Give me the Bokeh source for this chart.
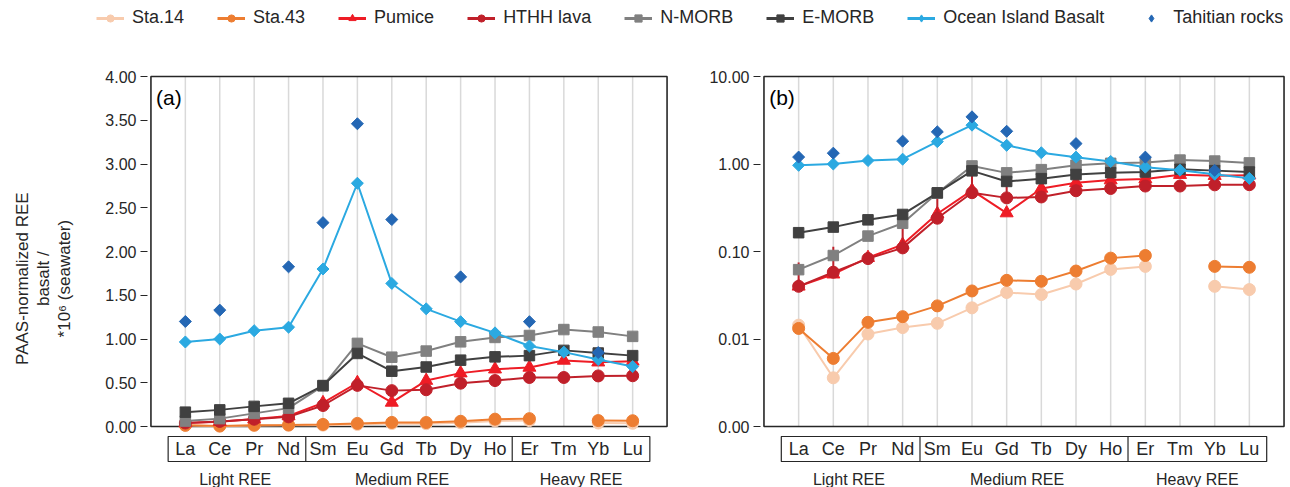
import math
from bokeh.plotting import figure
from bokeh.models import (Range1d, FixedTicker, PrintfTickFormatter, Legend, LegendItem)
from bokeh.layouts import column, row
from bokeh.embed import file_html
from bokeh.resources import INLINE
from bokeh.core.properties import value

nan = float("nan")

# ---------------- data ----------------
elements = ["La", "Ce", "Pr", "Nd", "Sm", "Eu", "Gd", "Tb", "Dy", "Ho", "Er", "Tm", "Yb", "Lu"]
groups = ["Light REE", "Medium REE", "Heavy REE"]
group_sizes = [4, 6, 4]

sta14 = [0.0144, 0.0036, 0.0114, 0.0135, 0.0151, 0.0227, 0.0340, 0.0322, 0.0425, 0.0624, 0.0676, nan, 0.0400, 0.0367]
sta43 = [0.0132, 0.0060, 0.0155, 0.0180, 0.0239, 0.0354, 0.0468, 0.0456, 0.0598, 0.0840, 0.0900, nan, 0.0676, 0.0660]
pumice = [0.040, 0.055, 0.085, 0.120, 0.270, 0.500, 0.275, 0.525, 0.610, 0.655, 0.675, 0.755, 0.735, 0.745]
hthh_lava = [0.040, 0.058, 0.083, 0.110, 0.240, 0.470, 0.410, 0.420, 0.495, 0.525, 0.560, 0.560, 0.578, 0.580]
# error bars as drawn: small symmetric whiskers in (a), upper bars in (b)
hthh_lava_err_a = [0.02, 0.02, 0.02, 0.02, 0.02, 0.03, 0.03, 0.03, 0.03, 0.03, 0.03, 0.03, 0.03, 0.03]
hthh_lava_err_b = [0.035, 0.055, 0.015, 0.150, 0.200, 0.400, 0.250, 0.030, 0.030, 0.030, 0.030, 0.030, 0.030, 0.030]
n_morb = [0.062, 0.090, 0.150, 0.210, 0.465, 0.950, 0.792, 0.862, 0.968, 1.018, 1.040, 1.108, 1.080, 1.030]
e_morb = [0.164, 0.190, 0.230, 0.265, 0.468, 0.835, 0.632, 0.680, 0.758, 0.796, 0.810, 0.870, 0.840, 0.810]
oib = [0.966, 1.000, 1.095, 1.135, 1.800, 2.780, 1.635, 1.345, 1.198, 1.070, 0.920, 0.850, 0.765, 0.685]
tahitian = [1.200, 1.330, nan, 1.825, 2.330, 3.460, 2.365, nan, 1.710, nan, 1.198, nan, 0.845, nan]

y_label_lines = ["PAAS-normalized REE", "basalt /", "*10\u2076 (seawater)"]

series = [
    # name, values, color, marker, size, angle, draw line, legend marker
    ("Sta.14", sta14, "#F8CBAD", "circle", 12, 0.0, True, "circle"),
    ("Sta.43", sta43, "#ED7D31", "circle", 12, 0.0, True, "circle"),
    ("Pumice", pumice, "#EE1C25", "triangle", 13, 0.0, True, "triangle"),
    ("HTHH lava", hthh_lava, "#C0202A", "circle", 12, 0.0, True, "circle"),
    ("N-MORB", n_morb, "#808080", "square", 10.5, 0.0, True, "square"),
    ("E-MORB", e_morb, "#404040", "square", 10.5, 0.0, True, "square"),
    ("Ocean Island Basalt", oib, "#2BA9E1", "square", 8.5, math.pi / 4, True, "diamond"),
    ("Tahitian rocks", tahitian, "#2467B4", "square", 8.5, math.pi / 4, False, "diamond"),
]

FONT = "Liberation Sans"
TXT = "#262626"
xs = list(range(1, len(elements) + 1))

PPU = 87.5          # pixels per y unit (linear) / per decade (log)
XPAD = 0.1
W, H = 1290, 487
LEG_H = 32
MAIN_H = H - LEG_H
TOP = 40            # frame top offset in the panel figure
YLAB_W = 80


def make_panel(log, letter, frame_left, frame_width, fig_width, err_lo, err_hi):
    if log:
        y_lo, y_hi = 1e-3, 10.0
        top = 10 ** (1 + 4 / PPU)
        bot = 10 ** (1 + 4 / PPU - (MAIN_H - TOP) / PPU)
        below = lambda px: 10 ** (-3 - px / PPU)
        ticks = [0.001, 0.01, 0.1, 1, 10]
    else:
        y_lo, y_hi = 0.0, 4.0
        top = 4 + 4 / PPU
        bot = top - (MAIN_H - TOP) / PPU
        below = lambda px: -px / PPU
        ticks = [0, 0.5, 1.0, 1.5, 2.0, 2.5, 3.0, 3.5, 4.0]

    p = figure(width=fig_width, height=MAIN_H, output_backend="svg", toolbar_location=None,
               x_range=Range1d(-XPAD, len(elements) + 1 + XPAD), y_range=Range1d(bot, top),
               y_axis_type="log" if log else "linear",
               min_border_left=frame_left, min_border_right=fig_width - frame_left - frame_width,
               min_border_top=TOP, min_border_bottom=0)
    p.outline_line_color = None
    p.xgrid.visible = False
    p.ygrid.visible = False
    p.xaxis.visible = False
    ax = p.yaxis[0]
    ax.ticker = FixedTicker(ticks=ticks, minor_ticks=[])
    ax.formatter = PrintfTickFormatter(format="%.2f")
    ax.axis_line_color = None
    ax.major_tick_line_color = TXT
    ax.major_tick_line_width = 1
    ax.major_tick_out = 7
    ax.major_tick_in = 0
    ax.minor_tick_line_color = None
    ax.major_label_text_font = FONT
    ax.major_label_text_font_size = "16px"
    ax.major_label_text_color = TXT
    ax.major_label_standoff = 4

    n = len(elements)
    # vertical grid lines
    p.segment(x0=xs, y0=[y_lo] * n, x1=xs, y1=[y_hi] * n, line_color="#D9D9D9", line_width=1.5)
    # plot border
    p.quad(left=[0], right=[n + 1], bottom=[y_lo], top=[y_hi], fill_color=None,
           line_color="#262626", line_width=1.6)

    # series
    for name, vals, color, marker, size, ang, line, _lm in series:
        if line:
            p.line(xs, vals, line_color=color, line_width=2)
        if name == "HTHH lava":
            p.segment(x0=xs, y0=[v - e for v, e in zip(vals, err_lo)], x1=xs,
                      y1=[v + e for v, e in zip(vals, err_hi)],
                      line_color=color, line_width=2)
        p.scatter(xs, vals, marker=marker, size=size, angle=ang, fill_color=color,
                  line_color=color)

    # category box below the axis
    yb_top, yb_bot = below(10), below(35)
    p.quad(left=[0.5], right=[n + 0.5], bottom=[yb_bot], top=[yb_top], fill_color=None,
           line_color="#262626", line_width=1.2)
    cum = 0
    centers = []
    for gs in group_sizes:
        centers.append(cum + (gs + 1) / 2)
        cum += gs
        if cum < n:
            p.segment(x0=[cum + 0.5], y0=[yb_bot], x1=[cum + 0.5], y1=[yb_top],
                      line_color="#262626", line_width=1.2)
    p.text(x=xs, y=[below(22)] * n, text=elements, text_font=value(FONT),
           text_font_size="18px", text_color=TXT, text_align="center", text_baseline="middle")
    gx = [centers[0] - 0.05, centers[1] - 0.2, centers[2]]
    p.text(x=gx, y=[below(53)] * len(groups), text=groups, text_font=value(FONT),
           text_font_size="16px", text_color=TXT, text_align="center", text_baseline="middle")

    # panel letter
    ly = 10 ** (1 - 21 / PPU) if log else 4 - 21 / PPU
    p.text(x=[0.15], y=[ly], text=[letter], text_font=value(FONT), text_font_size="21px",
           text_color="#000000", text_align="left", text_baseline="middle")
    return p


# y-axis title strip (pixel coordinates)
ylab = figure(width=YLAB_W, height=MAIN_H, output_backend="svg", toolbar_location=None,
              x_range=Range1d(0, YLAB_W), y_range=Range1d(0, MAIN_H), min_border=0)
ylab.axis.visible = False
ylab.grid.visible = False
ylab.outline_line_color = None
ylab.text(x=[22, 43, 64], y=[MAIN_H - (258 - LEG_H)] * 3, text=y_label_lines,
          angle=math.pi / 2, text_font=value(FONT), text_font_size="17px", text_color=TXT,
          text_align="center", text_baseline="middle")

n_el = len(elements)
unit_a = 34.4
fa_w = round((n_el + 1 + 2 * XPAD) * unit_a)
fig_a = make_panel(False, "(a)", 147 - YLAB_W, fa_w, 700 - YLAB_W,
                   hthh_lava_err_a, hthh_lava_err_a)
unit_b = 34.67
fb_w = round((n_el + 1 + 2 * XPAD) * unit_b)
fig_b = make_panel(True, "(b)", 60, fb_w, 590, [0.0] * n_el, hthh_lava_err_b)

# legend strip
leg = figure(width=W, height=LEG_H, output_backend="svg", toolbar_location=None,
             x_range=(0, 1), y_range=(0, 1), min_border=0)
leg.axis.visible = False
leg.grid.visible = False
leg.outline_line_color = None
items = []
for name, vals, color, marker, size, ang, line, lmarker in series:
    rs = []
    if line:
        rs.append(leg.line(x=[-5, -4], y=[-5, -4], line_color=color, line_width=3))
    lsize = 13 if lmarker == "diamond" else size - 2
    rs.append(leg.scatter(x=[-5], y=[-5], marker=lmarker, size=lsize,
                          fill_color=color, line_color=color))
    items.append(LegendItem(label=name, renderers=rs))
legend = Legend(items=items, orientation="horizontal", location=(96, 4),
                label_text_font=FONT, label_text_font_size="18px", label_text_color=TXT,
                glyph_width=28, glyph_height=18, label_standoff=8, spacing=33,
                padding=0, margin=0, border_line_color=None, background_fill_alpha=0)
leg.add_layout(legend)

layout = column(leg, row(ylab, fig_a, fig_b))
open("out.html", "w").write(file_html(layout, INLINE))
